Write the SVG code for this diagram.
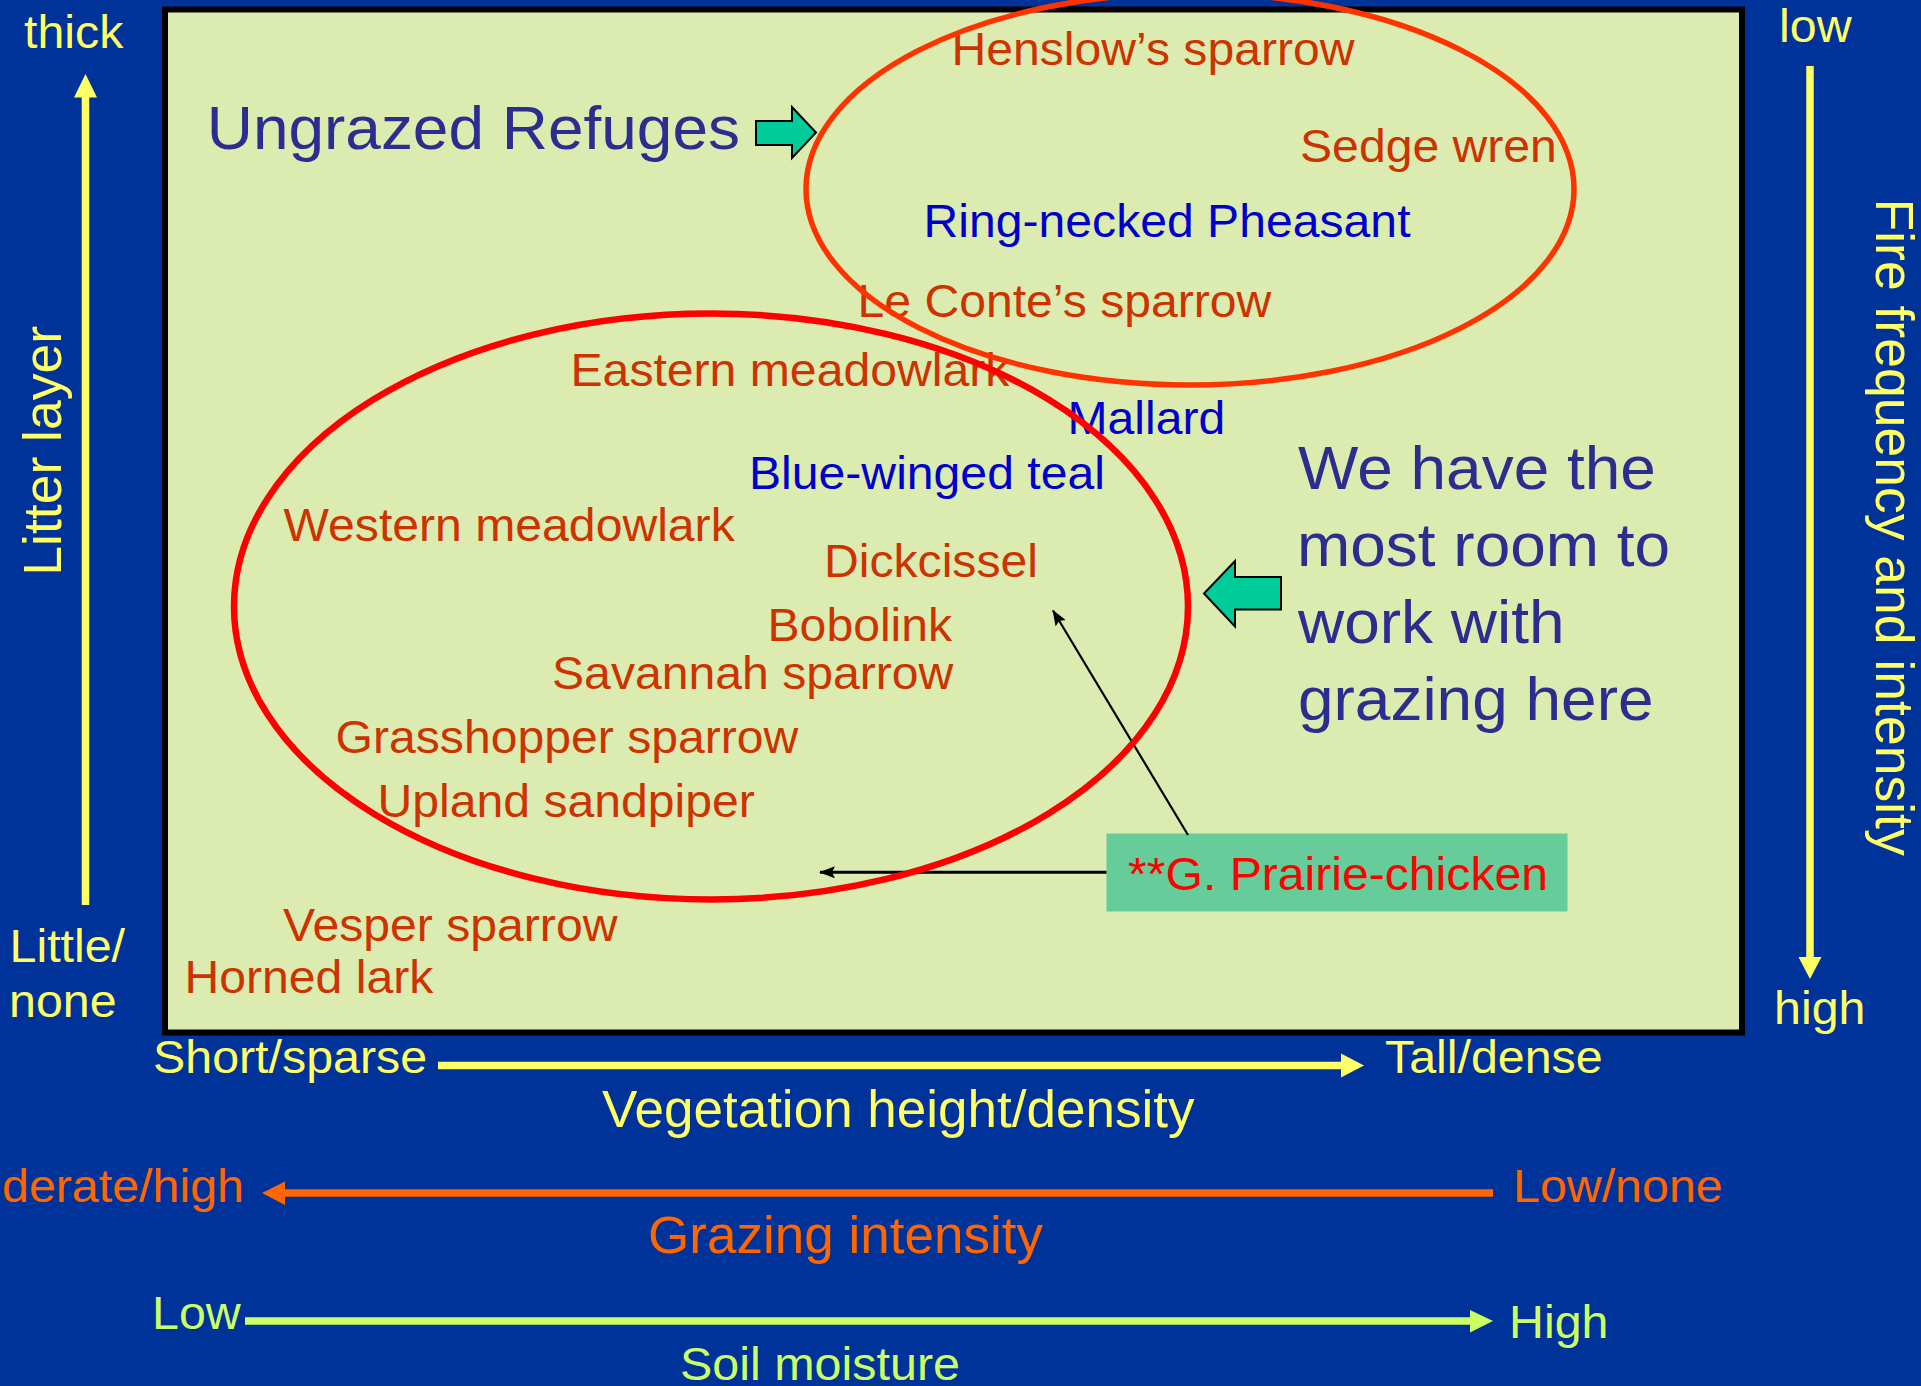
<svg xmlns="http://www.w3.org/2000/svg" width="1921" height="1386" viewBox="0 0 1921 1386">
<style>
text { font-family: "Liberation Sans", Arial, sans-serif; }
.sp { font-size: 46.3px; fill: #CC3300; }
.bl { font-size: 46.3px; fill: #0000CC; }
.big { font-size: 61.5px; fill: #2D2D8F; }
.yl { font-size: 46.5px; fill: #FFFF66; }
.yt { font-size: 51px; fill: #FFFF66; }
.yr { font-size: 53.5px; fill: #FFFF66; }
.or { font-size: 46.5px; fill: #FF6600; }
.ot { font-size: 51px; fill: #FF6600; }
.gr { font-size: 46.5px; fill: #CCFF66; }
.gt { font-size: 46.6px; fill: #CCFF66; }
.pc { font-size: 46.3px; fill: #FF0000; }
.ax { stroke-width: 7.5; fill: none; }
.blk { fill: #00CC99; stroke: #000; stroke-width: 2; stroke-linejoin: miter; }
.ell { fill: none; }
</style>
<defs>
<marker id="ah" markerUnits="userSpaceOnUse" markerWidth="16" markerHeight="12" refX="15" refY="6" orient="auto">
<path d="M0,0 L16,6 L0,12 L3,6 Z" fill="#000"/>
</marker>
</defs>
<rect x="0" y="0" width="1921" height="1386" fill="#003399"/>
<g id="panel"><rect x="165" y="9.5" width="1577" height="1023" fill="#DCECB0" stroke="#000" stroke-width="6"/></g>

<g id="axis-labels">
<text class="yl" transform="translate(24,48) scale(1.04,1)">thick</text>
<text class="yl" transform="translate(9.5,962) scale(1.04,1)">Little/</text>
<text class="yl" transform="translate(9,1017) scale(1.04,1)">none</text>
<text class="yr" transform="translate(61,575.7) rotate(-90)">Litter layer</text>
<text class="yl" transform="translate(1779,42) scale(1.04,1)">low</text>
<text class="yl" transform="translate(1774,1024) scale(1.04,1)">high</text>
<text class="yr" transform="translate(1875.5,198.5) rotate(90)">Fire frequency and intensity</text>
<text class="yl" transform="translate(153,1073) scale(1.04,1)">Short/sparse</text>
<text class="yl" transform="translate(1385,1073) scale(1.04,1)">Tall/dense</text>
<text class="yt" transform="translate(602,1127) scale(1.04,1)">Vegetation height/density</text>
<text class="or" transform="translate(2,1202) scale(1.04,1)">derate/high</text>
<text class="or" transform="translate(1513,1202) scale(1.04,1)">Low/none</text>
<text class="ot" transform="translate(648,1253) scale(1.04,1)">Grazing intensity</text>
<text class="gr" transform="translate(152,1329) scale(1.04,1)">Low</text>
<text class="gr" transform="translate(1509,1338) scale(1.04,1)">High</text>
<text class="gt" transform="translate(680,1380) scale(1.04,1)">Soil moisture</text>
</g>

<g id="species">
<text class="sp" transform="translate(951.5,65) scale(1.04,1)">Henslow’s sparrow</text>
<text class="sp" transform="translate(1300,162) scale(1.04,1)">Sedge wren</text>
<text class="bl" transform="translate(923.5,237) scale(1.04,1)">Ring-necked Pheasant</text>
<text class="sp" transform="translate(857.5,317) scale(1.04,1)">Le Conte’s sparrow</text>
<text class="sp" transform="translate(570.5,386) scale(1.04,1)">Eastern meadowlark</text>
<text class="bl" transform="translate(1067.5,434) scale(1.04,1)">Mallard</text>
<text class="bl" transform="translate(749,489) scale(1.04,1)">Blue-winged teal</text>
<text class="sp" transform="translate(283.5,541) scale(1.04,1)">Western meadowlark</text>
<text class="sp" transform="translate(824,577) scale(1.04,1)">Dickcissel</text>
<text class="sp" transform="translate(767.5,641) scale(1.04,1)">Bobolink</text>
<text class="sp" transform="translate(552,689) scale(1.04,1)">Savannah sparrow</text>
<text class="sp" transform="translate(335.5,753) scale(1.04,1)">Grasshopper sparrow</text>
<text class="sp" transform="translate(377.5,817) scale(1.04,1)">Upland sandpiper</text>
<text class="sp" transform="translate(283,941) scale(1.04,1)">Vesper sparrow</text>
<text class="sp" transform="translate(184.5,993) scale(1.04,1)">Horned lark</text>
</g>

<g id="ungrazed-refuges">
<text class="big" transform="translate(206.7,149) scale(1.04,1)">Ungrazed Refuges</text>
<polygon class="blk" points="756,121 792,121 792,107 816,132.5 792,158 792,145 756,145"/>
</g>

<g id="most-room">
<text class="big" transform="translate(1298,489) scale(1.04,1)">We have the</text>
<text class="big" transform="translate(1297,566) scale(1.04,1)">most room to</text>
<text class="big" transform="translate(1298,643) scale(1.04,1)">work with</text>
<text class="big" transform="translate(1298,720) scale(1.04,1)">grazing here</text>
<polygon class="blk" points="1281,577 1235,577 1235,561 1204,593.5 1235,626.5 1235,609.5 1281,609.5"/>
</g>

<g id="prairie-chicken">
<rect x="1106.5" y="833.5" width="461" height="78" fill="#66CC99"/>
<text class="pc" transform="translate(1128,889.5) scale(1.04,1)">**G. Prairie-chicken</text>
</g>

<g id="connectors">
<line class="ax" x1="85.5" y1="905" x2="85.5" y2="95" stroke="#FFFF66"/>
<polygon points="74,97.5 97,97.5 85.5,74" fill="#FFFF66"/>
<line class="ax" x1="1810" y1="66" x2="1810" y2="958" stroke="#FFFF66"/>
<polygon points="1798.5,957 1821.5,957 1810,979" fill="#FFFF66"/>
<line class="ax" x1="438" y1="1065.5" x2="1342" y2="1065.5" stroke="#FFFF66"/>
<polygon points="1341,1053.5 1341,1077.5 1364,1065.5" fill="#FFFF66"/>
<line class="ax" x1="1493" y1="1193" x2="284" y2="1193" stroke="#FF6600" stroke-width="8"/>
<polygon points="285,1181.5 285,1205 262,1193" fill="#FF6600"/>
<line class="ax" x1="245" y1="1321" x2="1471" y2="1321" stroke="#CCFF66"/>
<polygon points="1470,1310 1470,1332.5 1493,1321" fill="#CCFF66"/>
<line x1="1188" y1="835" x2="1053" y2="610.5" stroke="#000" stroke-width="2.2" marker-end="url(#ah)"/>
<line x1="1106.5" y1="872.3" x2="820" y2="872.3" stroke="#000" stroke-width="3" marker-end="url(#ah)"/>
</g>

<g id="ungrazed-ellipse"><ellipse class="ell" cx="1190" cy="189" rx="384" ry="196" stroke="#FF3300" stroke-width="5.5"/></g>
<g id="grazed-ellipse"><ellipse class="ell" cx="711" cy="606.5" rx="477" ry="293" stroke="#FF0000" stroke-width="6.5"/></g>
</svg>
